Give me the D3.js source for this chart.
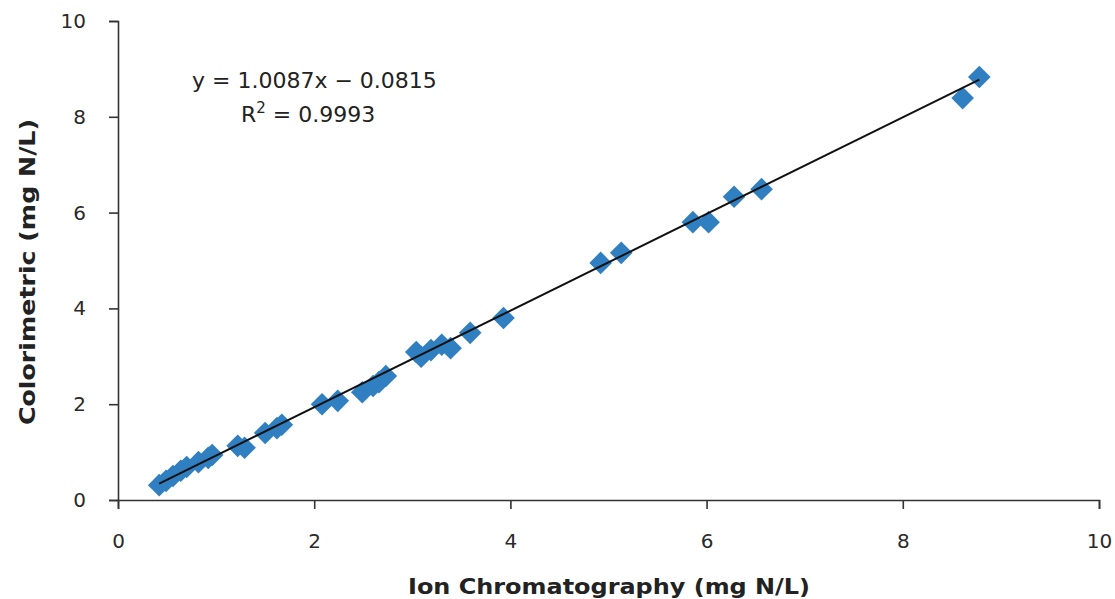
<!DOCTYPE html>
<html>
<head>
<meta charset="utf-8">
<script src="https://cdn.jsdelivr.net/npm/d3@7"></script>
<style>
  body { margin: 0; background: #fff; }
  svg text { font-family: "DejaVu Sans", Verdana, sans-serif; fill: #222; }
</style>
</head>
<body>
<div id="chart"></div>
<script>
// ion chromatography vs colorimetric readings (mg N/L)
var icValues = [0.42, 0.49, 0.56, 0.64, 0.70, 0.82, 0.92, 0.96, 1.22, 1.29, 1.50, 1.62, 1.67,
    2.08, 2.24, 2.49, 2.60, 2.66, 2.73, 3.04, 3.09, 3.19, 3.30, 3.39, 3.59, 3.93,
    4.92, 5.13, 5.86, 6.02, 6.28, 6.56, 8.61, 8.78];
var colorValues = [0.31, 0.40, 0.50, 0.61, 0.69, 0.79, 0.88, 0.94, 1.13, 1.09, 1.40, 1.50, 1.57,
    2.00, 2.07, 2.25, 2.38, 2.46, 2.59, 3.09, 2.99, 3.13, 3.24, 3.17, 3.49, 3.80,
    4.95, 5.16, 5.80, 5.80, 6.33, 6.49, 8.39, 8.83];
var xTicks = [0, 2, 4, 6, 8, 10];
var yTicks = [0, 2, 4, 6, 8, 10];
var slope = 1.0087, intercept = -0.0815, rSquared = "0.9993";

var width = 1115,
    height = 599,
    margin = {left: 118, right: 15, top: 21, bottom: 99};

var svg = d3.select("#chart")
    .append("svg")
    .attr("width", width)
    .attr("height", height);

var xScale = d3.scaleLinear()
    .domain([0, 10])
    .range([margin.left, width - margin.right - 1]);

var yScale = d3.scaleLinear()
    .domain([0, 10])
    .range([height - margin.bottom, margin.top]);

var data = icValues.map(function (d, i) {
    return {x: d, y: colorValues[i]};
});

var xaxis = svg.append("g")
    .attr("transform", "translate(0," + yScale(0) + ")")
    .call(d3.axisBottom(xScale).tickValues(xTicks).tickSize(9).tickPadding(25).tickFormat(d3.format("d")));

var yaxis = svg.append("g")
    .attr("transform", "translate(" + xScale(0) + ",0)")
    .call(d3.axisLeft(yScale).tickValues(yTicks).tickSize(9).tickPadding(23).tickFormat(d3.format("d")));

svg.selectAll(".domain").attr("stroke", "#333").attr("stroke-width", 1.6);
svg.selectAll(".tick line").attr("stroke", "#333").attr("stroke-width", 1.6);
svg.selectAll(".tick text").style("font-size", "20px").style("fill", "#2a2a2a");

// markers
svg.append("g")
    .selectAll("path")
    .data(data)
    .enter()
    .append("path")
    .attr("transform", function (d) {
        return "translate(" + xScale(d.x) + "," + yScale(d.y) + ") rotate(45)";
    })
    .attr("d", "M-8,-8H8V8H-8Z")
    .style("fill", "#2f7fc1");

// trend line
var xMin = d3.min(icValues), xMax = d3.max(icValues);
svg.append("line")
    .attr("x1", xScale(xMin))
    .attr("y1", yScale(slope * xMin + intercept))
    .attr("x2", xScale(xMax))
    .attr("y2", yScale(slope * xMax + intercept))
    .attr("stroke", "#111")
    .attr("stroke-width", 2);

// equation
svg.append("text")
    .attr("x", 192)
    .attr("y", 88)
    .style("font-size", "22px")
    .text("y = " + slope + "x \u2212 " + Math.abs(intercept));

var r2 = svg.append("text")
    .attr("x", 241)
    .attr("y", 122)
    .style("font-size", "22px");
r2.append("tspan").text("R");
r2.append("tspan").attr("dy", -9).style("font-size", "15px").text("2");
r2.append("tspan").attr("dy", 9).text(" = " + rSquared);

// axis titles
svg.append("text")
    .attr("x", 609)
    .attr("y", 594)
    .attr("text-anchor", "middle")
    .attr("textLength", 402)
    .attr("lengthAdjust", "spacingAndGlyphs")
    .style("font-size", "22px")
    .style("font-weight", "bold")
    .text("Ion Chromatography (mg N/L)");

svg.append("text")
    .attr("transform", "translate(35," + 272 + ") rotate(-90)")
    .attr("text-anchor", "middle")
    .attr("textLength", 306)
    .attr("lengthAdjust", "spacingAndGlyphs")
    .style("font-size", "22px")
    .style("font-weight", "bold")
    .text("Colorimetric (mg N/L)");
</script>
</body>
</html>
